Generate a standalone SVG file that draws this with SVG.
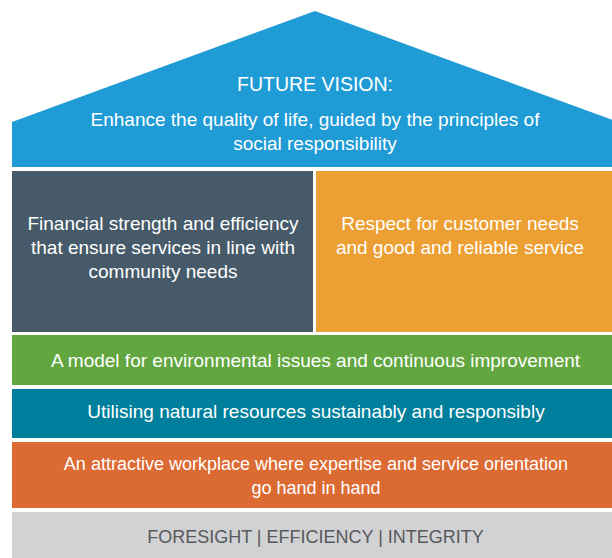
<svg xmlns="http://www.w3.org/2000/svg" width="612" height="558" viewBox="0 0 612 558">
<style>
text{font-family:"Liberation Sans",Arial,sans-serif;fill:#fff;text-anchor:middle;font-size:19px}
text.t{font-size:19.5px}
text.s{font-size:18px}
text.g{fill:#58595b;font-size:18px}
</style>
<rect width="612" height="558" fill="#fff"/>
<g id="roof">
<polygon points="12,122 315,11 618,122 618,167 12,167" fill="#1f9bd5"/>
<text x="315" y="91" class="t">FUTURE VISION:</text>
<text x="315" y="126">Enhance the quality of life, guided by the principles of</text>
<text x="315" y="150">social responsibility</text>
</g>
<g id="financial">
<rect x="12" y="171" width="301" height="161" fill="#465a69"/>
<text x="163" y="230">Financial strength and efficiency</text>
<text x="163" y="254">that ensure services in line with</text>
<text x="163" y="278">community needs</text>
</g>
<g id="customer">
<rect x="316" y="171" width="296" height="161" fill="#ec9f33"/>
<text x="460" y="230">Respect for customer needs</text>
<text x="460" y="254">and good and reliable service</text>
</g>
<g id="environment">
<rect x="12" y="335" width="600" height="50" fill="#62a640"/>
<text x="315.5" y="367">A model for environmental issues and continuous improvement</text>
</g>
<g id="resources">
<rect x="12" y="389" width="600" height="49" fill="#007f9c"/>
<text x="316" y="418">Utilising natural resources sustainably and responsibly</text>
</g>
<g id="workplace">
<rect x="12" y="442" width="600" height="66" fill="#dc6a33"/>
<text x="316" y="470" class="s">An attractive workplace where expertise and service orientation</text>
<text x="316" y="494" class="s">go hand in hand</text>
</g>
<g id="values">
<rect x="12" y="512" width="600" height="46" fill="#d1d2d4"/>
<text x="315.5" y="543" class="g">FORESIGHT | EFFICIENCY | INTEGRITY</text>
</g>
<g id="connectors"/>
</svg>
